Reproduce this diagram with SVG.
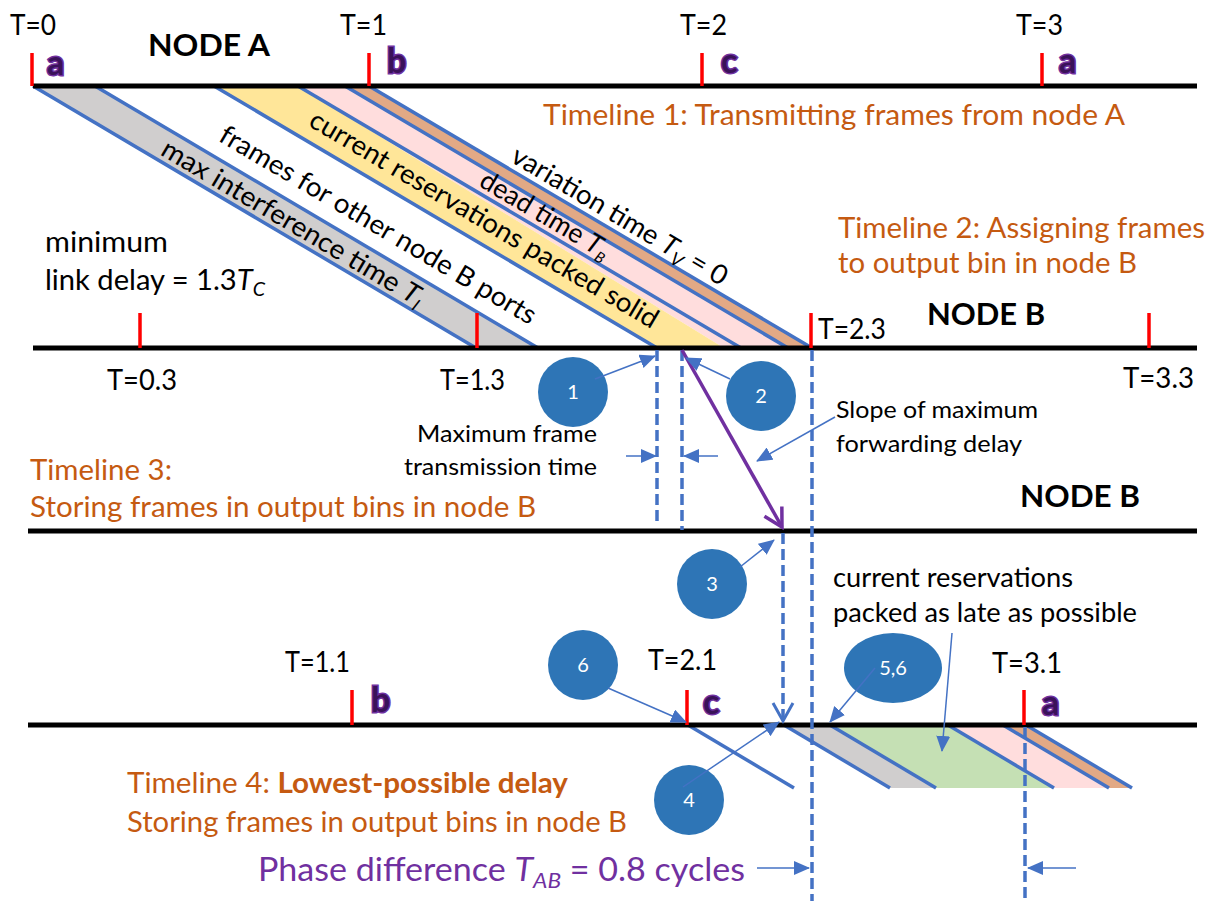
<svg xmlns="http://www.w3.org/2000/svg" width="1210" height="901" viewBox="0 0 1210 901">
  <defs>
    <style>
      text { font-family: Lato, "Liberation Sans", sans-serif; }
      .lbl { font-size: 28px; fill: #000; }
      .small { font-size: 24px; fill: #000; }
      .mid { font-size: 26px; fill: #000; }
      .orange { font-size: 28px; fill: #C55A11; }
      .node { font-size: 31px; font-weight: bold; fill: #000; }
      .frame { font-size: 34px; font-weight: bold; fill: #3A1259; stroke: #7030A0; stroke-width: 3; paint-order: stroke; }
      .diag { font-size: 27px; fill: #000; }
      .phase { font-size: 33px; fill: #7030A0; }
      .num { font-size: 20px; fill: #fff; text-anchor: middle; }
      .axis { stroke: #000; stroke-width: 5; }
      .tick { stroke: #FF0000; stroke-width: 3.5; }
      .edge { stroke: #4472C4; stroke-width: 3.5; fill: none; }
      .dash { stroke: #4472C4; stroke-width: 3.5; stroke-dasharray: 11 5; fill: none; }
      .ptr { stroke: #4472C4; stroke-width: 1.5; fill: none; marker-end: url(#tri); }
      .bubble { fill: #2E75B6; }
      .gray { fill: #D0CECE; }
      .yellow { fill: #FFE699; }
      .pink { fill: #FFDDDD; }
      .brown { fill: #E2A985; }
      .green { fill: #C5E0B4; }
    </style>
    <marker id="tri" markerUnits="userSpaceOnUse" markerWidth="16" markerHeight="14" viewBox="0 0 16 14" refX="15" refY="7" orient="auto">
      <path d="M0,0 L16,7 L0,14 z" fill="#4472C4"/>
    </marker>
    <marker id="vee-purple" markerUnits="userSpaceOnUse" markerWidth="26" markerHeight="26" viewBox="-3 -3 26 26" refX="19" refY="10" orient="auto">
      <path d="M1,0 L19,10 L1,20" fill="none" stroke="#7030A0" stroke-width="3.5"/>
    </marker>
    <marker id="vee-blue" markerUnits="userSpaceOnUse" markerWidth="26" markerHeight="26" viewBox="-3 -3 26 26" refX="19" refY="10" orient="auto">
      <path d="M1,0 L19,10 L1,20" fill="none" stroke="#4472C4" stroke-width="3"/>
    </marker>
  </defs>

  <rect width="1210" height="901" fill="#fff"/>

  <!-- Frames travelling on the link from node A to node B -->
  <g id="link-frames">
    <polygon class="gray" points="33,86 95,86 538,348 476,348"/>
    <polygon class="pink" points="298,86 345,86 788,348 724,348"/>
    <polygon class="yellow" points="214,86 298,86 724,348 657,348"/>
    <polygon class="brown" points="345,86 369,86 812,348 788,348"/>
    <line class="edge" x1="33" y1="86" x2="476" y2="348"/>
    <line class="edge" x1="95" y1="86" x2="538" y2="348"/>
    <line class="edge" x1="214" y1="86" x2="657" y2="348"/>
    <line class="edge" x1="298" y1="86" x2="741" y2="348"/>
    <line class="edge" x1="345" y1="86" x2="788" y2="348"/>
    <line class="edge" x1="369" y1="86" x2="812" y2="348"/>
    <g transform="translate(95,86) rotate(30.64)">
      <text class="diag" x="240" y="26" text-anchor="middle" textLength="300" lengthAdjust="spacingAndGlyphs">max interference time <tspan font-style="italic">T</tspan><tspan font-style="italic" font-size="17" dy="5">I</tspan></text>
    </g>
    <g transform="translate(214,86) rotate(30.64)">
      <text class="diag" x="212" y="45" text-anchor="middle" textLength="363" lengthAdjust="spacingAndGlyphs">frames for other node B ports</text>
    </g>
    <g transform="translate(298,86) rotate(30.64)">
      <text class="diag" x="228" y="29" text-anchor="middle" textLength="400" lengthAdjust="spacingAndGlyphs">current reservations packed solid</text>
    </g>
    <g transform="translate(345,86) rotate(30.64)">
      <text class="diag" x="238" y="18" text-anchor="middle" font-size="23" textLength="146" lengthAdjust="spacingAndGlyphs">dead time <tspan font-style="italic">T</tspan><tspan font-style="italic" font-size="15" dy="5">B</tspan></text>
    </g>
    <g transform="translate(369,86) rotate(30.64)">
      <text class="diag" x="282" y="-7" text-anchor="middle" textLength="246" lengthAdjust="spacingAndGlyphs">variation time <tspan font-style="italic">T</tspan><tspan font-style="italic" font-size="18" dy="6">V</tspan><tspan dy="-6"> = 0</tspan></text>
    </g>
  </g>

  <!-- Frames stored in node B output bins, lowest-possible delay -->
  <g id="bin-frames">
    <polygon class="gray" points="784,725 830,725 936,788 890,788"/>
    <polygon class="green" points="830,725 948,725 1054,788 936,788"/>
    <polygon class="pink" points="948,725 1003,725 1109,788 1054,788"/>
    <polygon class="brown" points="1003,725 1026,725 1132,788 1109,788"/>
    <line class="edge" x1="688" y1="725" x2="794" y2="788"/>
    <line class="edge" x1="784" y1="725" x2="890" y2="788"/>
    <line class="edge" x1="830" y1="725" x2="936" y2="788"/>
    <line class="edge" x1="948" y1="725" x2="1054" y2="788"/>
    <line class="edge" x1="1003" y1="725" x2="1109" y2="788"/>
    <line class="edge" x1="1026" y1="725" x2="1132" y2="788"/>
  </g>

  <!-- Timeline 1: node A transmitter -->
  <g id="timeline-1">
    <line class="axis" x1="33" y1="86" x2="1197" y2="86"/>
    <line class="tick" x1="32" y1="53" x2="32" y2="86"/>
    <line class="tick" x1="369" y1="53" x2="369" y2="86"/>
    <line class="tick" x1="702" y1="53" x2="702" y2="86"/>
    <line class="tick" x1="1042" y1="53" x2="1042" y2="86"/>
    <text class="lbl" x="10" y="35" textLength="46" lengthAdjust="spacingAndGlyphs">T=0</text>
    <text class="lbl" x="340" y="35" textLength="47" lengthAdjust="spacingAndGlyphs">T=1</text>
    <text class="lbl" x="680" y="35" textLength="47" lengthAdjust="spacingAndGlyphs">T=2</text>
    <text class="lbl" x="1016" y="35" textLength="47" lengthAdjust="spacingAndGlyphs">T=3</text>
    <text class="frame" x="47" y="75">a</text>
    <text class="frame" x="387" y="73">b</text>
    <text class="frame" x="721" y="73">c</text>
    <text class="frame" x="1059" y="73">a</text>
    <text class="node" x="148" y="56" textLength="122" lengthAdjust="spacingAndGlyphs">NODE A</text>
    <text class="orange" x="543" y="125" textLength="582" lengthAdjust="spacingAndGlyphs">Timeline 1: Transmitting frames from node A</text>
  </g>

  <!-- Timeline 2: node B input -->
  <g id="timeline-2">
    <line class="axis" x1="33" y1="348" x2="1197" y2="348"/>
    <line class="tick" x1="140" y1="313" x2="140" y2="348"/>
    <line class="tick" x1="477" y1="313" x2="477" y2="348"/>
    <line class="tick" x1="811" y1="313" x2="811" y2="348"/>
    <line class="tick" x1="1149" y1="313" x2="1149" y2="348"/>
    <text class="orange" x="838" y="238" textLength="367" lengthAdjust="spacingAndGlyphs">Timeline 2: Assigning frames</text>
    <text class="orange" x="838" y="273" textLength="299" lengthAdjust="spacingAndGlyphs">to output bin in node B</text>
    <text class="node" x="927" y="325" textLength="118" lengthAdjust="spacingAndGlyphs">NODE B</text>
    <text class="lbl" x="818" y="339" textLength="68" lengthAdjust="spacingAndGlyphs">T=2.3</text>
    <text class="lbl" x="107" y="390" textLength="70" lengthAdjust="spacingAndGlyphs">T=0.3</text>
    <text class="lbl" x="440" y="390" textLength="65" lengthAdjust="spacingAndGlyphs">T=1.3</text>
    <text class="lbl" x="1123" y="388" textLength="71" lengthAdjust="spacingAndGlyphs">T=3.3</text>
    <text class="lbl" x="45" y="252" textLength="123" lengthAdjust="spacingAndGlyphs">minimum</text>
    <text class="lbl" x="45" y="290" textLength="220" lengthAdjust="spacingAndGlyphs">link delay = 1.3<tspan font-style="italic">T</tspan><tspan font-style="italic" font-size="19" dy="6">C</tspan></text>
  </g>

  <!-- Timeline 3: node B output bins -->
  <g id="timeline-3">
    <line class="axis" x1="28" y1="531" x2="1197" y2="531"/>
    <text class="orange" x="30" y="480" textLength="142" lengthAdjust="spacingAndGlyphs">Timeline 3:</text>
    <text class="orange" x="30" y="517" textLength="506" lengthAdjust="spacingAndGlyphs">Storing frames in output bins in node B</text>
    <text class="node" x="1020" y="507" textLength="120" lengthAdjust="spacingAndGlyphs">NODE B</text>
    <text class="small" x="597" y="442" text-anchor="end" textLength="180" lengthAdjust="spacingAndGlyphs">Maximum frame</text>
    <text class="small" x="597" y="475" text-anchor="end" textLength="193" lengthAdjust="spacingAndGlyphs">transmission time</text>
    <text class="small" x="836" y="418" textLength="202" lengthAdjust="spacingAndGlyphs">Slope of maximum</text>
    <text class="small" x="836" y="452" textLength="186" lengthAdjust="spacingAndGlyphs">forwarding delay</text>
  </g>

  <!-- Timeline 4: lowest-possible delay -->
  <g id="timeline-4">
    <line class="axis" x1="28" y1="725" x2="1197" y2="725"/>
    <line class="tick" x1="352" y1="690" x2="352" y2="725"/>
    <line class="tick" x1="687" y1="690" x2="687" y2="725"/>
    <line class="tick" x1="1024" y1="690" x2="1024" y2="725"/>
    <text class="lbl" x="285" y="672" textLength="65" lengthAdjust="spacingAndGlyphs">T=1.1</text>
    <text class="lbl" x="648" y="670" textLength="69" lengthAdjust="spacingAndGlyphs">T=2.1</text>
    <text class="lbl" x="992" y="673" textLength="70" lengthAdjust="spacingAndGlyphs">T=3.1</text>
    <text class="frame" x="371" y="712">b</text>
    <text class="frame" x="703" y="714">c</text>
    <text class="frame" x="1042" y="715">a</text>
    <text class="mid" x="833" y="587" textLength="240" lengthAdjust="spacingAndGlyphs">current reservations</text>
    <text class="mid" x="833" y="622" textLength="304" lengthAdjust="spacingAndGlyphs">packed as late as possible</text>
    <text class="orange" x="127" y="793" textLength="441" lengthAdjust="spacingAndGlyphs">Timeline 4: <tspan font-weight="bold">Lowest-possible delay</tspan></text>
    <text class="orange" x="127" y="832" textLength="500" lengthAdjust="spacingAndGlyphs">Storing frames in output bins in node B</text>
    <text class="phase" x="258" y="881" textLength="487" lengthAdjust="spacingAndGlyphs">Phase difference <tspan font-style="italic">T</tspan><tspan font-style="italic" font-size="22" dy="7">AB</tspan><tspan dy="-7"> = 0.8 cycles</tspan></text>
  </g>

  <!-- Numbered callouts -->
  <g id="callout-1"><circle class="bubble" cx="573" cy="392" r="35"/><text class="num" x="573" y="399">1</text></g>
  <g id="callout-2"><circle class="bubble" cx="761" cy="396" r="35"/><text class="num" x="761" y="403">2</text></g>
  <g id="callout-3"><circle class="bubble" cx="712" cy="584" r="35"/><text class="num" x="712" y="591">3</text></g>
  <g id="callout-6"><circle class="bubble" cx="583" cy="665" r="35"/><text class="num" x="583" y="672">6</text></g>
  <g id="callout-4"><circle class="bubble" cx="689" cy="800" r="35"/><text class="num" x="689" y="807">4</text></g>
  <g id="callout-56"><ellipse class="bubble" cx="893" cy="668" rx="49" ry="35"/><text class="num" x="893" y="675">5,6</text></g>

  <!-- Connectors -->
  <g id="connectors">
    <line class="dash" x1="657" y1="350" x2="657" y2="525"/>
    <line class="dash" x1="682" y1="350" x2="682" y2="530"/>
    <line class="dash" x1="812" y1="350" x2="812" y2="901"/>
    <line class="dash" x1="1025" y1="727" x2="1025" y2="901"/>
    <line class="dash" x1="783" y1="533" x2="783" y2="721" marker-end="url(#vee-blue)"/>
    <line x1="682" y1="350" x2="782" y2="527" stroke="#7030A0" stroke-width="3.5" marker-end="url(#vee-purple)"/>
    <line class="ptr" x1="595" y1="379" x2="655" y2="356"/>
    <line class="ptr" x1="730" y1="379" x2="686" y2="358"/>
    <line class="ptr" x1="626" y1="456" x2="656" y2="456"/>
    <line class="ptr" x1="718" y1="456" x2="684" y2="456"/>
    <line class="ptr" x1="835" y1="417" x2="757" y2="461"/>
    <line class="ptr" x1="740" y1="567" x2="774" y2="540"/>
    <line class="ptr" x1="608" y1="688" x2="686" y2="722"/>
    <line class="ptr" x1="683" y1="787" x2="779" y2="722"/>
    <line class="ptr" x1="875" y1="668" x2="830" y2="722"/>
    <line class="ptr" x1="952" y1="633" x2="942" y2="751"/>
    <line class="ptr" x1="757" y1="868" x2="809" y2="868"/>
    <line class="ptr" x1="1076" y1="868" x2="1028" y2="868"/>
  </g>
</svg>
